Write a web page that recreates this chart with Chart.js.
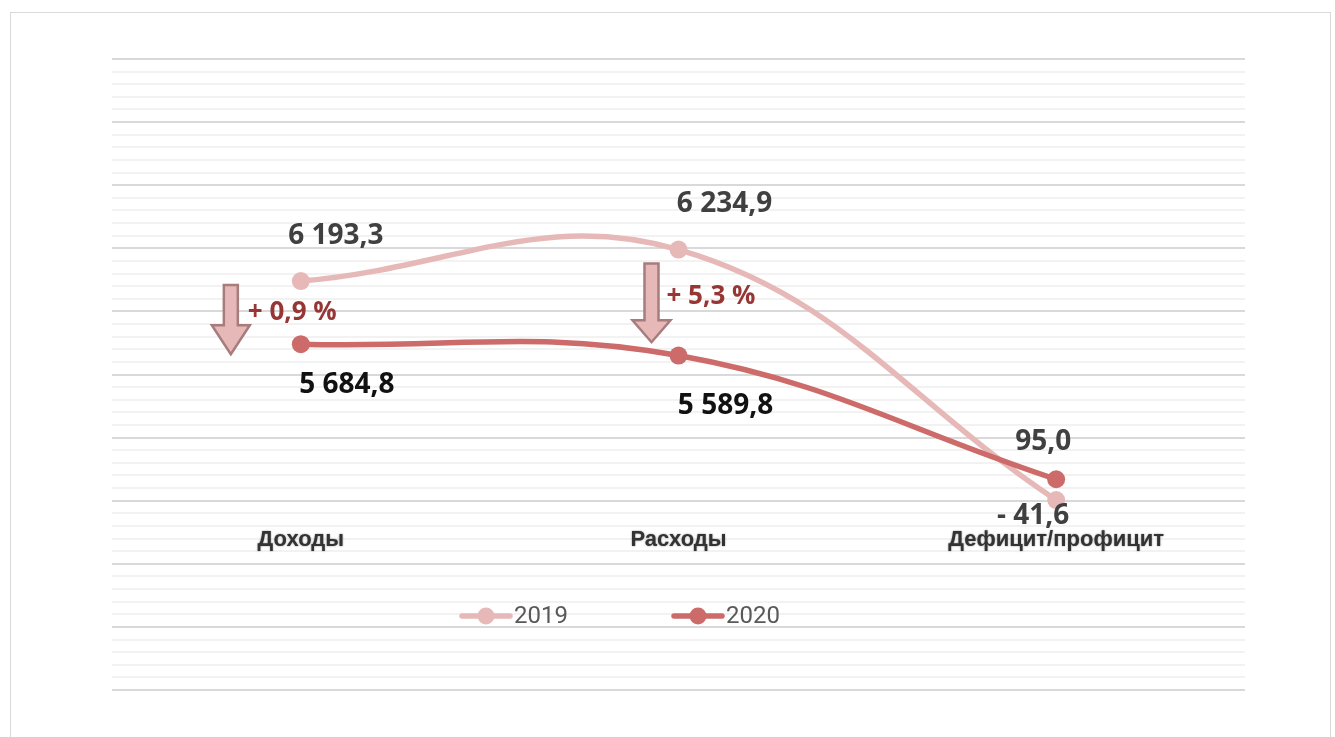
<!DOCTYPE html>
<html><head><meta charset="utf-8">
<script src="https://cdn.jsdelivr.net/npm/chart.js@4/dist/chart.umd.min.js"></script>
<style>
html,body{margin:0;padding:0;background:#fff;overflow:hidden;}
#wrap{position:relative;width:1335px;height:737px;}
#frame{position:absolute;left:10px;top:12px;width:1321px;height:740px;border:1px solid #d9d9d9;box-sizing:border-box;}
canvas{position:absolute;left:0;top:0;}
</style></head><body>
<div id="wrap"><div id="frame"></div><canvas id="c" width="1335" height="737"></canvas></div>
<script>
// ---- data ----
const categories = ['Доходы', 'Расходы', 'Дефицит/профицит'];
const seriesNames = ['2019', '2020'];
// plotted levels (units of the hidden value axis, 0..50)
const levels2019 = [32.4, 34.9, 15.05];
const levels2020 = [27.4, 26.5, 16.7];
// value labels as printed on the chart
const labels2019 = ['6 193,3', '6 234,9', '- 41,6'];
const labels2020 = ['5 684,8', '5 589,8', '95,0'];
// change labels (2020 vs 2019) for the first two categories
const changeLabels = ['+ 0,9 %', '+ 5,3 %'];
const axisMin = 0, axisMax = 50, axisStep = 1, majorEvery = 5;

// ---- styles / placement (not data) ----
const col2019 = '#E6B9B8';
const col2020 = '#CC6B69';
const lblOff2019 = [[35, -45], [46, -46], [-23, 16]];
const lblOff2020 = [[46, 41], [47, 50], [-13, -37]];
const lblCol2019 = ['#404040', '#404040', '#404040'];
const lblCol2020 = ['#111111', '#111111', '#404040'];
const changeOff = [[-53, 29.87], [-12, 31.14]];      // [dx from category, level]
const arrows = [ // dx from category, top level, tip level, head height
  {dx: -70, top: 32.1, tip: 26.6, head: 29},
  {dx: -27, top: 33.8, tip: 27.56, head: 22}
];
const catLabelLevel = 11.9;

const overlay = {
  id: 'overlay',
  afterDraw(chart) {
    const ctx = chart.ctx, xs = chart.scales.x, ys = chart.scales.y;
    ctx.save();
    // arrows
    arrows.forEach((a, i) => {
      const cx = xs.getPixelForValue(i) + a.dx;
      const top = ys.getPixelForValue(a.top), tip = ys.getPixelForValue(a.tip);
      const sw = 14, hw = 38;
      ctx.beginPath();
      ctx.moveTo(cx - sw / 2, top);
      ctx.lineTo(cx + sw / 2, top);
      ctx.lineTo(cx + sw / 2, tip - a.head);
      ctx.lineTo(cx + hw / 2, tip - a.head);
      ctx.lineTo(cx, tip);
      ctx.lineTo(cx - hw / 2, tip - a.head);
      ctx.lineTo(cx - sw / 2, tip - a.head);
      ctx.closePath();
      ctx.fillStyle = '#E6B9B8';
      ctx.fill();
      ctx.lineWidth = 2.5;
      ctx.strokeStyle = '#A77C7C';
      ctx.lineJoin = 'miter';
      ctx.stroke();
    });
    // change labels
    ctx.font = 'bold 26px "Open Sans", "Liberation Sans", sans-serif';
    ctx.fillStyle = '#963735';
    ctx.textAlign = 'left';
    ctx.textBaseline = 'middle';
    changeLabels.forEach((t, i) => {
      ctx.fillText(t, xs.getPixelForValue(i) + changeOff[i][0], ys.getPixelForValue(changeOff[i][1]));
    });
    // value labels
    ctx.font = 'bold 28px "Open Sans", "Liberation Sans", sans-serif';
    ctx.textAlign = 'center';
    const drawVals = (levels, texts, offs, cols) => {
      levels.forEach((v, i) => {
        ctx.fillStyle = cols[i];
        ctx.fillText(texts[i], xs.getPixelForValue(i) + offs[i][0], ys.getPixelForValue(v) + offs[i][1]);
      });
    };
    drawVals(levels2019, labels2019, lblOff2019, lblCol2019);
    drawVals(levels2020, labels2020, lblOff2020, lblCol2020);
    // category labels
    ctx.font = 'bold 22px "Liberation Sans", Arial, sans-serif';
    ctx.fillStyle = '#333333';
    ctx.shadowColor = 'rgba(0,0,0,0.45)';
    ctx.shadowBlur = 2;
    categories.forEach((c, i) => {
      ctx.fillText(c, xs.getPixelForValue(i), ys.getPixelForValue(catLabelLevel));
    });
    ctx.shadowBlur = 0;
    ctx.shadowColor = 'transparent';
    // legend
    const legY = 616;
    const items = [{x: 460, col: col2019, text: seriesNames[0]}, {x: 672, col: col2020, text: seriesNames[1]}];
    ctx.font = '24px "Liberation Sans Narrow", "Roboto", sans-serif';
    ctx.textAlign = 'left';
    items.forEach(it => {
      ctx.strokeStyle = it.col;
      ctx.lineWidth = 5.5;
      ctx.lineCap = 'round';
      ctx.beginPath();
      ctx.moveTo(it.x + 2, legY);
      ctx.lineTo(it.x + 50, legY);
      ctx.stroke();
      ctx.fillStyle = it.col;
      ctx.beginPath();
      ctx.arc(it.x + 26, legY, 8.5, 0, Math.PI * 2);
      ctx.fill();
      ctx.fillStyle = '#595959';
      ctx.fillText(it.text, it.x + 54, legY + 1);
    });
    ctx.restore();
  }
};

new Chart(document.getElementById('c'), {
  type: 'line',
  data: {
    labels: categories,
    datasets: [
      {label: seriesNames[0], data: levels2019, borderColor: col2019, backgroundColor: col2019,
       borderWidth: 5.5, pointRadius: 9, pointBorderWidth: 0, pointBackgroundColor: col2019,
       tension: 0.4, order: 1, borderCapStyle: 'round'},
      {label: seriesNames[1], data: levels2020, borderColor: col2020, backgroundColor: col2020,
       borderWidth: 5.5, pointRadius: 9, pointBorderWidth: 0, pointBackgroundColor: col2020,
       tension: 0.4, order: 0, borderCapStyle: 'round'}
    ]
  },
  options: {
    responsive: false,
    animation: false,
    layout: {padding: {left: 112, right: 90, top: 59, bottom: 47}},
    plugins: {legend: {display: false}, tooltip: {enabled: false}},
    scales: {
      x: {display: false, offset: true},
      y: {
        display: true, min: axisMin, max: axisMax,
        ticks: {display: false, stepSize: axisStep},
        border: {display: false},
        grid: {
          drawTicks: false,
          lineWidth: 2,
          color: c => (Math.round(c.tick.value) % majorEvery === 0 ? '#d9d9d9' : '#f2f2f2')
        }
      }
    }
  },
  plugins: [overlay]
});
</script>
</body></html>
